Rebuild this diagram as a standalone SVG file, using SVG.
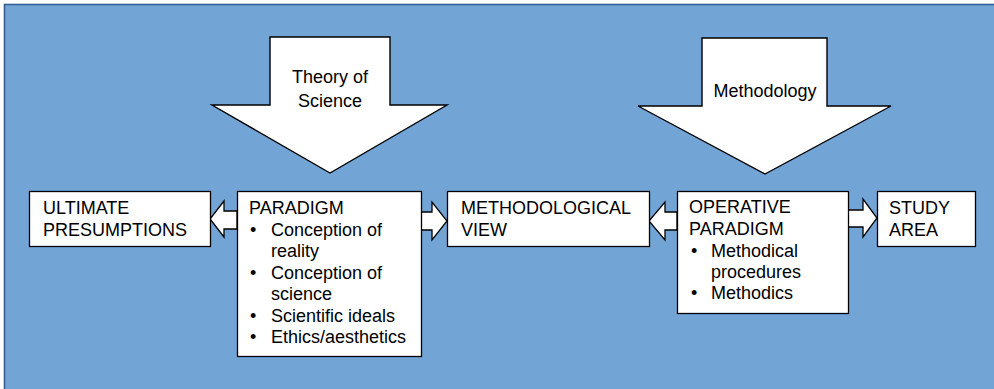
<svg xmlns="http://www.w3.org/2000/svg" width="994" height="389" viewBox="0 0 994 389">
  <style>
    .panel { fill: #72A5D6; stroke: #2F5F93; stroke-width: 1.6; }
    .box { fill: #FFFFFF; stroke: #000000; stroke-width: 1.3; }
    .bigarrow { fill: #FFFFFF; stroke: #000000; stroke-width: 1.4; stroke-linejoin: miter; }
    .link { fill: #FFFFFF; stroke: #000000; stroke-width: 1.3; stroke-linejoin: miter; }
    .t { font-family: "Liberation Sans", Arial, sans-serif; font-size: 18px; fill: #000000; }
    .c { font-family: "Liberation Sans", Arial, sans-serif; font-size: 18px; fill: #000000; text-anchor: middle; }
  </style>

  <rect width="994" height="389" fill="#FFFFFF"/>
  <!-- background panel -->
  <rect class="panel" x="4.5" y="4.5" width="1000" height="400"/>

  <!-- large input arrows -->
  <g id="theory-of-science">
    <polygon class="bigarrow" points="270,37 390,37 390,105 447,105 330,173 212,105 270,105"/>
    <text class="c" x="330" y="83">Theory of</text>
    <text class="c" x="330" y="107">Science</text>
  </g>
  <g id="methodology">
    <polygon class="bigarrow" points="702,38 827,38 827,106 891,106 765,174 638,106 702,106"/>
    <text class="c" x="765" y="97">Methodology</text>
  </g>

  <!-- block connectors between boxes -->
  <g id="connectors">
    <polygon class="link" points="237,211 224,211 224,201 210,219 224,237 224,229 237,229"/>
    <polygon class="link" points="421,212 432,212 432,202 447,221 432,240 432,230 421,230"/>
    <polygon class="link" points="677,212 665,212 665,202 649,221 665,240 665,230 677,230"/>
    <polygon class="link" points="848,210 863,210 863,199 877,218 863,237 863,227 848,227"/>
  </g>

  <g id="ultimate-presumptions">
    <rect class="box" x="29.5" y="191.5" width="181" height="55"/>
    <text class="t" x="43" y="214">ULTIMATE</text>
    <text class="t" x="43" y="236">PRESUMPTIONS</text>
  </g>

  <g id="paradigm">
    <rect class="box" x="237.5" y="191.5" width="184" height="165"/>
    <text class="t" x="249" y="214">PARADIGM</text>
    <text class="t" x="250" y="236">•</text>
    <text class="t" x="271" y="236">Conception of</text>
    <text class="t" x="271" y="257">reality</text>
    <text class="t" x="250" y="279">•</text>
    <text class="t" x="271" y="279">Conception of</text>
    <text class="t" x="271" y="300">science</text>
    <text class="t" x="250" y="322">•</text>
    <text class="t" x="271" y="322">Scientific ideals</text>
    <text class="t" x="250" y="343">•</text>
    <text class="t" x="271" y="343">Ethics/aesthetics</text>
  </g>

  <g id="methodological-view">
    <rect class="box" x="447.5" y="191.5" width="202" height="55"/>
    <text class="t" x="461" y="214">METHODOLOGICAL</text>
    <text class="t" x="461" y="236">VIEW</text>
  </g>

  <g id="operative-paradigm">
    <rect class="box" x="677.5" y="191.5" width="171" height="122"/>
    <text class="t" x="689" y="213">OPERATIVE</text>
    <text class="t" x="689" y="235">PARADIGM</text>
    <text class="t" x="691" y="257">•</text>
    <text class="t" x="711" y="257">Methodical</text>
    <text class="t" x="711" y="278">procedures</text>
    <text class="t" x="691" y="299">•</text>
    <text class="t" x="711" y="299">Methodics</text>
  </g>

  <g id="study-area">
    <rect class="box" x="877.5" y="191.5" width="98" height="55"/>
    <text class="t" x="889" y="214">STUDY</text>
    <text class="t" x="889" y="236">AREA</text>
  </g>
</svg>
